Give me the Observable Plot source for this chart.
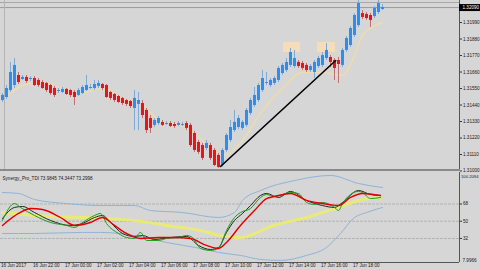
<!DOCTYPE html>
<html><head><meta charset="utf-8">
<script src="https://cdn.jsdelivr.net/npm/d3@7"></script>
<script src="https://cdn.jsdelivr.net/npm/@observablehq/plot@0.6"></script>
<style>
html,body{margin:0;padding:0;background:#d6d6d6;}
#chart{position:relative;width:480px;height:270px;overflow:hidden;background:#d6d6d6;font-family:"Liberation Sans",Arial,sans-serif;}
#chart svg{position:absolute;left:0;display:block;overflow:visible;}
.ln{position:absolute;}
</style></head><body><div id="chart"></div>
<script>
// ---- price candles (15-minute bars) ----
const open = [1.31470,1.31490,1.31537,1.31570,1.31637,1.31610,1.31624,1.31610,1.31617,1.31604,1.31590,1.31584,1.31570,1.31550,1.31530,1.31524,1.31544,1.31537,1.31524,1.31504,1.31517,1.31537,1.31550,1.31550,1.31564,1.31577,1.31570,1.31524,1.31510,1.31497,1.31484,1.31470,1.31464,1.31417,1.31444,1.31450,1.31404,1.31350,1.31304,1.31317,1.31324,1.31310,1.31317,1.31310,1.31304,1.31304,1.31317,1.31304,1.31250,1.31190,1.31170,1.31150,1.31170,1.31137,1.31104,1.31037,1.31137,1.31204,1.31270,1.31290,1.31284,1.31304,1.31384,1.31437,1.31470,1.31537,1.31584,1.31570,1.31584,1.31604,1.31650,1.31670,1.31704,1.31697,1.31724,1.31717,1.31704,1.31670,1.31657,1.31697,1.31704,1.31750,1.31757,1.31737,1.31737,1.31704,1.31804,1.31837,1.31904,1.31970,1.32050,1.32044,1.32037,1.32030,1.32057,1.32077];
const high = [1.31517,1.31570,1.31724,1.31750,1.31657,1.31637,1.31637,1.31630,1.31630,1.31617,1.31604,1.31590,1.31577,1.31564,1.31550,1.31557,1.31550,1.31544,1.31537,1.31550,1.31570,1.31637,1.31577,1.31604,1.31604,1.31584,1.31577,1.31530,1.31517,1.31504,1.31490,1.31477,1.31470,1.31537,1.31524,1.31470,1.31417,1.31370,1.31350,1.31364,1.31337,1.31330,1.31330,1.31324,1.31330,1.31324,1.31330,1.31317,1.31264,1.31204,1.31184,1.31204,1.31184,1.31150,1.31117,1.31150,1.31250,1.31337,1.31404,1.31370,1.31337,1.31417,1.31484,1.31557,1.31584,1.31670,1.31657,1.31617,1.31630,1.31697,1.31717,1.31750,1.31817,1.31804,1.31737,1.31730,1.31717,1.31710,1.31737,1.31764,1.31790,1.31850,1.31770,1.31750,1.31757,1.31817,1.31897,1.31964,1.32050,1.32137,1.32070,1.32057,1.32050,1.32097,1.32137,1.32110];
const low = [1.31457,1.31477,1.31524,1.31550,1.31577,1.31604,1.31584,1.31597,1.31564,1.31557,1.31544,1.31524,1.31504,1.31490,1.31517,1.31517,1.31504,1.31490,1.31437,1.31497,1.31510,1.31530,1.31544,1.31537,1.31550,1.31537,1.31484,1.31470,1.31457,1.31450,1.31437,1.31430,1.31417,1.31270,1.31270,1.31350,1.31250,1.31250,1.31290,1.31304,1.31297,1.31304,1.31290,1.31284,1.31297,1.31297,1.31270,1.31157,1.31124,1.31110,1.31070,1.31137,1.31070,1.31030,1.31017,1.31024,1.31124,1.31190,1.31257,1.31277,1.31270,1.31290,1.31370,1.31424,1.31457,1.31524,1.31570,1.31557,1.31570,1.31590,1.31637,1.31657,1.31690,1.31684,1.31684,1.31670,1.31657,1.31657,1.31617,1.31684,1.31690,1.31737,1.31690,1.31604,1.31584,1.31690,1.31790,1.31824,1.31890,1.31957,1.32010,1.32004,1.31957,1.32017,1.32044,1.32070];
const close = [1.31504,1.31550,1.31657,1.31704,1.31590,1.31624,1.31597,1.31617,1.31570,1.31570,1.31550,1.31537,1.31517,1.31504,1.31537,1.31544,1.31510,1.31504,1.31490,1.31537,1.31557,1.31570,1.31557,1.31577,1.31584,1.31550,1.31490,1.31484,1.31470,1.31457,1.31450,1.31444,1.31430,1.31484,1.31470,1.31370,1.31270,1.31284,1.31337,1.31350,1.31304,1.31317,1.31297,1.31297,1.31317,1.31310,1.31284,1.31170,1.31137,1.31124,1.31084,1.31184,1.31084,1.31037,1.31024,1.31137,1.31237,1.31290,1.31324,1.31350,1.31324,1.31404,1.31470,1.31504,1.31570,1.31617,1.31590,1.31604,1.31617,1.31684,1.31704,1.31724,1.31790,1.31750,1.31697,1.31684,1.31670,1.31697,1.31724,1.31750,1.31770,1.31804,1.31724,1.31684,1.31710,1.31804,1.31884,1.31950,1.32037,1.32117,1.32024,1.32017,1.32004,1.32084,1.32124,1.32090];
const lastPrice = 1.32090;
const priceTicks = [1.31990,1.31880,1.31770,1.31660,1.31550,1.31440,1.31330,1.31220,1.31110,1.31000];

// faint moving average under the candles
const maIdx = [0,5,10,15,20,25,30,35,40,45,50,55,60,65,70,75,80,85,88,90,95];
const maVal = [1.31470,1.31570,1.31590,1.31550,1.31524,1.31550,1.31484,1.31437,1.31324,1.31304,1.31204,1.31104,1.31204,1.31404,1.31550,1.31657,1.31657,1.31637,1.31770,1.31904,1.31990];

// signal boxes and trend line
const boxStart = [70.25, 78.75];
const boxEnd = [74.5, 83.25];
const boxTop = [1.31857, 1.31857];
const boxBottom = [1.31790, 1.31790];
const trendIdx = [54.5, 83.3];
const trendVal = [1.31030, 1.31737];

// ---- Synergy_Pro_TDI ----
const tdiTitle = "Synergy_Pro_TDI 73.9845 74.3447 73.2998";
const tdiMaxLabel = "100.2094";
const tdiMinLabel = "7.9966";
const levels = [68, 50, 32];
const greenIdx = [0,3,4.5,8,12,16,18,20,23,24.5,26,29,31,33,34.5,36,39,41,44,46,47.5,49.5,52,54,56,58,59.5,62,64.5,66,68,72,74,76,78,80,83,84,85,89,90,92,94.5];
const greenVal = [50.8,68.5,64.4,56.0,48.7,45.6,43.5,48.7,56.0,58.1,47.7,37.2,33.0,32.0,38.3,29.9,29.9,32.0,33.0,35.1,33.0,21.6,19.5,21.6,40.3,53.9,59.1,63.3,74.8,77.9,75.8,80.0,79.0,69.6,67.5,69.6,64.4,61.2,68.5,81.1,80.0,73.7,74.8];
const blackIdx = [0,3,5,8,12,17,20,23,25,27,30,33,35,38,42,46,49,52,54,56,58,60,62,64.5,66,69,72,76,80,83,85,89,92,94.5];
const blackVal = [52.9,64.4,65.4,59.1,50.8,45.6,47.7,53.9,56.0,48.7,37.2,34.1,35.1,31.0,33.0,34.1,24.7,20.5,22.6,38.3,50.8,58.1,66.4,76.9,79.0,74.8,81.1,71.7,66.4,64.4,69.6,82.1,77.9,76.9];
const redIdx = [0,4,7,10,14.5,18,22,25,28,31,34.5,39,43,47,51,54,56,59.5,63,66,68,72,76,80,84,87,90,94.5];
const redVal = [45.6,58.1,63.3,62.3,53.9,45.6,48.7,53.9,45.6,37.2,32.0,33.0,33.0,32.0,24.7,21.6,27.8,45.6,61.2,73.7,75.8,79.0,71.7,68.5,66.4,74.8,79.0,76.9];
const yellowIdx = [0,8,24.5,33,41,49.5,54.5,59.5,67.75,76,84,89,94.5];
const yellowVal = [59.1,56.0,52.9,50.8,45.6,40.3,35.1,33.0,45.6,53.9,64.4,71.7,74.8];
const upperIdx = [0,4,8,16,24.5,33,37,45,54,58,60,64.5,73,82,89,95];
const upperVal = [80.0,79.0,72.7,68.5,66.4,66.4,61.2,59.1,53.9,59.1,71.7,82.1,92.5,97.8,89.4,85.2];
const lowerIdx = [0,8,20,24.5,33,41,49.5,54,59.5,64.5,69.5,76,81,84.5,88,91,95];
const lowerVal = [37.2,37.2,38.3,38.3,35.1,27.8,21.6,17.4,14.3,10.1,9.1,14.3,22.6,37.2,53.9,59.1,64.4];

// ---- time axis ----
const timeIdx = [0,8,16,24,32,40,48,56,64,72,80,88];
const timeLabels = ["16 Jun 2017","16 Jun 22:00","17 Jun 00:00","17 Jun 02:00","17 Jun 04:00","17 Jun 06:00","17 Jun 08:00","17 Jun 10:00","17 Jun 12:00","17 Jun 14:00","17 Jun 16:00","17 Jun 18:00"];

// ---- build ----
const xDomain = [-0.5, 114.25];
const bars = open.map((o, i) => ({i, o, h: high[i], l: low[i], c: close[i], up: close[i] >= o}));
const pts = (idx, val) => idx.map((x, k) => ({x, y: val[k]}));
const boxes = boxStart.map((s, k) => ({x1: s, x2: boxEnd[k], y1: boxBottom[k], y2: boxTop[k]}));
const font = {fontFamily: "'Liberation Sans', Arial, sans-serif", fontSize: "4.6px", background: "transparent", color: "#1a1a1a", overflow: "visible"};

const topPlot = Plot.plot({
  width: 480, height: 169, marginTop: 0, marginBottom: 0, marginLeft: 0, marginRight: 21,
  style: font,
  x: {domain: xDomain, axis: null},
  y: {domain: [1.31010, 1.32137], axis: null},
  marks: [
    Plot.ruleY([lastPrice], {stroke: "#9c9c9c", strokeWidth: 1}),
    Plot.rect(boxes, {x1: "x1", x2: "x2", y1: "y1", y2: "y2", fill: "#f6dcb8"}),
    Plot.line(pts(maIdx, maVal), {x: "x", y: "y", stroke: "#eedcaa", strokeWidth: 1.5, curve: "monotone-x"}),
    Plot.ruleX(bars, {x: "i", y1: "l", y2: "h", stroke: d => d.up ? "#7faad6" : "#c07070", strokeWidth: 1}),
    Plot.ruleX(bars, {x: "i", y1: "o", y2: "c", stroke: d => d.up ? "#2c8ef0" : "#e8141c", strokeWidth: 3}),
    Plot.line(pts(trendIdx, trendVal), {x: "x", y: "y", stroke: "#000", strokeWidth: 1.6}),
    Plot.axisY(priceTicks, {anchor: "right", tickSize: 2, tickPadding: 1.5, tickFormat: d => d.toFixed(5), label: null, stroke: "#333", fill: "#1a1a1a"}),
    Plot.ruleX([xDomain[1]], {stroke: "#555"}),
    Plot.ruleY([lastPrice], {x1: xDomain[1], x2: xDomain[1] + 5.3, stroke: "#000", strokeWidth: 7}),
    Plot.text([lastPrice], {x: xDomain[1], y: d => d, text: d => d.toFixed(5), dx: 3, textAnchor: "start", fill: "#fff"})
  ]
});
topPlot.style.top = "0px";

const botPlot = Plot.plot({
  width: 480, height: 99, marginTop: 1, marginBottom: 8, marginLeft: 0, marginRight: 21,
  style: font,
  x: {domain: xDomain, axis: null},
  y: {domain: [6.9, 100.9], axis: null},
  marks: [
    Plot.ruleY(levels, {stroke: "#b3b3b3", strokeDasharray: "3,1"}),
    Plot.line(pts(upperIdx, upperVal), {x: "x", y: "y", stroke: "#8eb4da", strokeWidth: 1, curve: "monotone-x"}),
    Plot.line(pts(lowerIdx, lowerVal), {x: "x", y: "y", stroke: "#8eb4da", strokeWidth: 1, curve: "monotone-x"}),
    Plot.line(pts(yellowIdx, yellowVal), {x: "x", y: "y", stroke: "#ecec6e", strokeWidth: 3, strokeOpacity: 0.9, curve: "monotone-x"}),
    Plot.line(pts(blackIdx, blackVal), {x: "x", y: "y", stroke: "#111", strokeWidth: 0.9, curve: "monotone-x"}),
    Plot.line(pts(greenIdx, greenVal), {x: "x", y: "y", stroke: "#16a016", strokeWidth: 1, curve: "monotone-x"}),
    Plot.line(pts(redIdx, redVal), {x: "x", y: "y", stroke: "#e00000", strokeWidth: 1.4, curve: "monotone-x"}),
    Plot.axisY(levels, {anchor: "right", tickSize: 2, tickPadding: 1.5, tickFormat: d => String(d), label: null, stroke: "#333", fill: "#1a1a1a"}),
    Plot.text([tdiMaxLabel], {x: xDomain[1], frameAnchor: "top", dx: 1.5, dy: 3, textAnchor: "start", fill: "#1a1a1a", fontSize: 4.2}),
    Plot.text([tdiMinLabel], {x: xDomain[1], frameAnchor: "bottom", dx: 3, dy: -1, textAnchor: "start", fill: "#1a1a1a"}),
    Plot.text([tdiTitle], {frameAnchor: "top-left", dx: 2, dy: 4, textAnchor: "start", fill: "#1a1a1a"}),
    Plot.ruleX([xDomain[1]], {stroke: "#555"}),
    Plot.ruleY([6.9], {stroke: "#555"}),
    Plot.text(timeLabels, {x: (d, k) => timeIdx[k], frameAnchor: "bottom", dy: 4.5, dx: -1.5, textAnchor: "start", fill: "#1a1a1a"})
  ]
});
botPlot.style.top = "171px";

const chart = document.getElementById("chart");
chart.append(topPlot, botPlot);
const addLine = (css) => { const d = document.createElement("div"); d.className = "ln"; d.style.cssText = css; chart.append(d); };
addLine("left:0;top:169px;width:460px;height:2px;background:#8a8a8a;");
addLine("left:0;top:2px;width:459px;height:1px;background:#a8a8a8;");
addLine("left:4px;top:0;width:1px;height:169px;background:#b4b4b4;");
</script></body></html>
